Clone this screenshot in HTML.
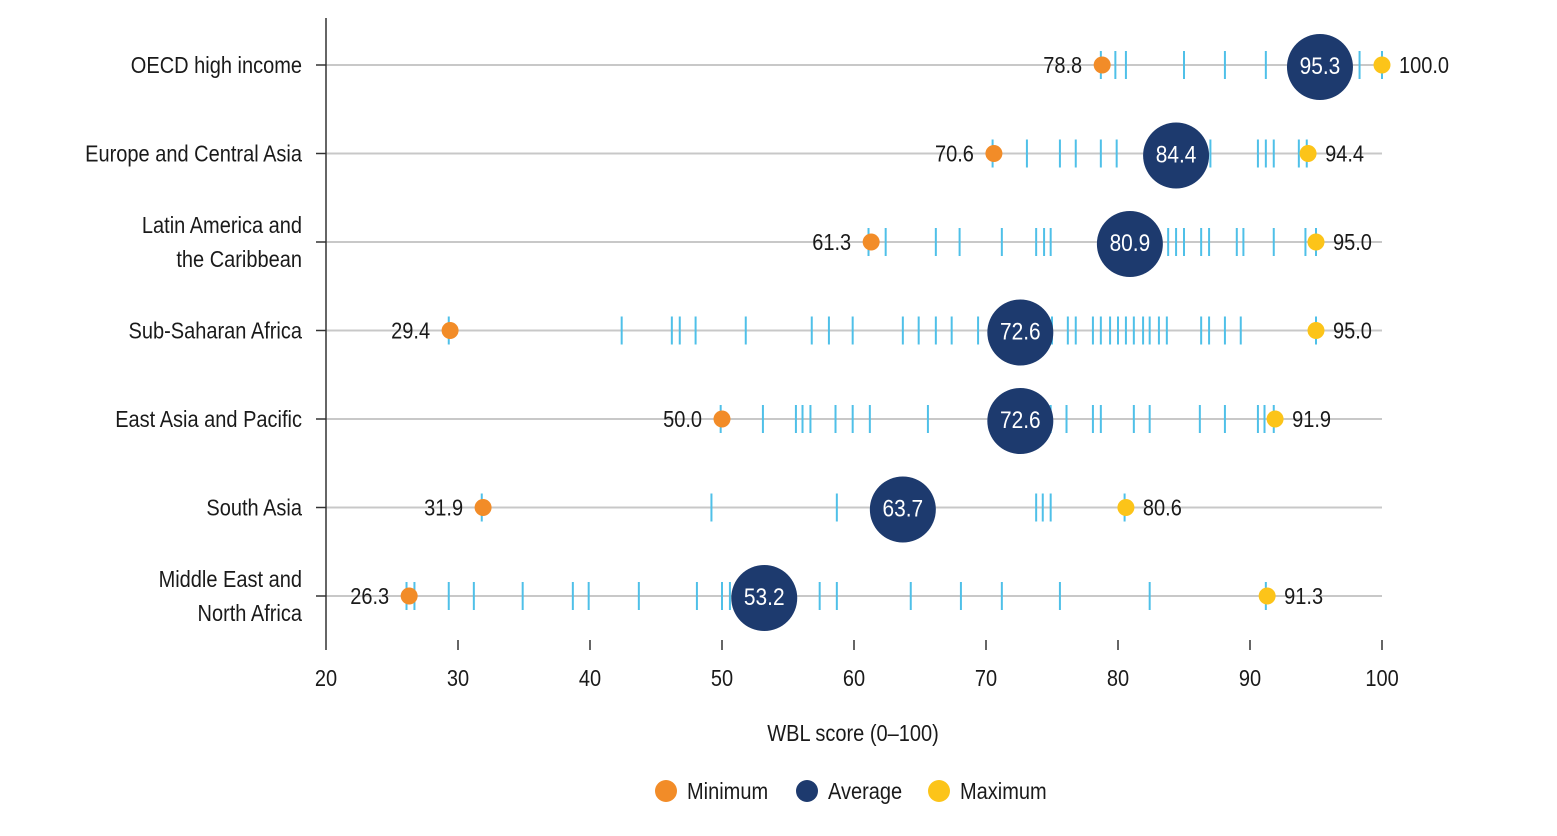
<!DOCTYPE html>
<html><head><meta charset="utf-8"><style>
body{margin:0;background:#fff}
svg{display:block}
text{font-family:"Liberation Sans",sans-serif;fill:#1a1a1a}
</style></head><body>
<svg id="chart" width="1557" height="836"></svg>
<script>
const regions=["OECD high income","Europe and Central Asia","Latin America and|the Caribbean","Sub-Saharan Africa","East Asia and Pacific","South Asia","Middle East and|North Africa"];
const minVals=[78.8,70.6,61.3,29.4,50.0,31.9,26.3];
const avgVals=[95.3,84.4,80.9,72.6,72.6,63.7,53.2];
const maxVals=[100.0,94.4,95.0,95.0,91.9,80.6,91.3];
const economyScores=[
[78.7,79.8,80.6,85.0,88.1,91.2,93.8,98.3,100],
[70.5,73.1,75.6,76.8,78.7,79.9,82.4,85.1,87.0,90.6,91.2,91.8,93.7,94.3],
[61.1,62.4,66.2,68.0,71.2,73.8,74.4,74.9,79.4,81.7,83.8,84.4,85.0,86.3,86.9,89.0,89.5,91.8,94.2,95.0],
[29.3,42.4,46.2,46.8,48.0,51.8,56.8,58.1,59.9,63.7,64.9,66.2,67.4,69.4,71.1,73.8,75.0,76.2,76.8,78.1,78.7,79.4,80.0,80.6,81.2,81.9,82.4,83.1,83.7,86.3,86.9,88.1,89.3,95.0],
[49.9,53.1,55.6,56.1,56.7,58.6,59.9,61.2,65.6,71.1,74.9,76.1,78.1,78.7,81.2,82.4,86.2,88.1,90.6,91.1,91.8],
[31.8,49.2,58.7,65.7,73.8,74.3,74.9,80.5],
[26.1,26.7,29.3,31.2,34.9,38.7,39.9,43.7,48.1,50.0,50.6,57.4,58.7,64.3,68.1,71.2,75.6,82.4,91.2]];
const xTicks=[20,30,40,50,60,70,80,90,100];

const svg=document.getElementById('chart');
const NS='http://www.w3.org/2000/svg';
const X=v=>326+(v-20)*13.2;
const Y=i=>65+i*88.5;
function mk(tag,attrs,parent){const e=document.createElementNS(NS,tag);for(const k in attrs)e.setAttribute(k,attrs[k]);(parent||svg).appendChild(e);return e;}
function txt(s,x,y,anchor,size,parent,fill){const t=mk('text',{x:0,y:0,'text-anchor':anchor,'font-size':size,'dominant-baseline':'central',transform:'translate('+x+','+y+') scale(0.87,1)'},parent);if(fill)t.style.fill=fill;t.textContent=s;return t;}

regions.forEach((r,i)=>{
  const g=mk('g',{});
  
  
  const gl=mk('line',{x1:326,x2:1382,y1:Y(i),y2:Y(i),stroke:'#c8c8c8','stroke-width':2},g);
  
  
  mk('line',{x1:316,x2:326,y1:Y(i),y2:Y(i),stroke:'#333','stroke-width':1.5},g);
  const parts=r.split('|');
  parts.forEach((p,k)=>{
    const t=txt(p,302,Y(i)+(parts.length>1?(k===0?-17:17):0),'end',23,g);
    
    
  });
  economyScores[i].forEach(v=>{
    const l=mk('line',{x1:X(v),x2:X(v),y1:Y(i)-14,y2:Y(i)+14,stroke:'#4fc0e8','stroke-width':2},g);
    
    
  });
  const mn=mk('circle',{cx:X(minVals[i]),cy:Y(i),r:8.5,fill:'#f28c28'},g);
  
  
  txt(minVals[i].toFixed(1),X(minVals[i])-20,Y(i),'end',23,g);
  const mx=mk('circle',{cx:X(maxVals[i]),cy:Y(i),r:8.5,fill:'#fcc419'},g);
  
  
  txt(maxVals[i].toFixed(1),X(maxVals[i])+17,Y(i),'start',23,g);
  const av=mk('circle',{cx:X(avgVals[i]),cy:Y(i)+2,r:33,fill:'#1d3a6e'},g);
  
  
  txt(avgVals[i].toFixed(1),X(avgVals[i]),Y(i)+1,'middle',24,g,'#fff');
});
const ax=mk('line',{x1:326,x2:326,y1:18,y2:640,stroke:'#333','stroke-width':1.5});


xTicks.forEach(v=>{
  mk('line',{x1:X(v),x2:X(v),y1:640,y2:650,stroke:'#333','stroke-width':1.5});
  const t=txt(String(v),X(v),678,'middle',23);
  
  
});
const title=txt('WBL score (0–100)',853,733,'middle',23);


const leg=[['Minimum','#f28c28',666],['Average','#1d3a6e',807],['Maximum','#fcc419',939]];
leg.forEach(l=>{
  const g=mk('g',{});
  
  
  mk('circle',{cx:l[2],cy:791,r:11,fill:l[1]},g);
  txt(l[0],l[2]+21,791,'start',23,g);
});
</script>
</body></html>
